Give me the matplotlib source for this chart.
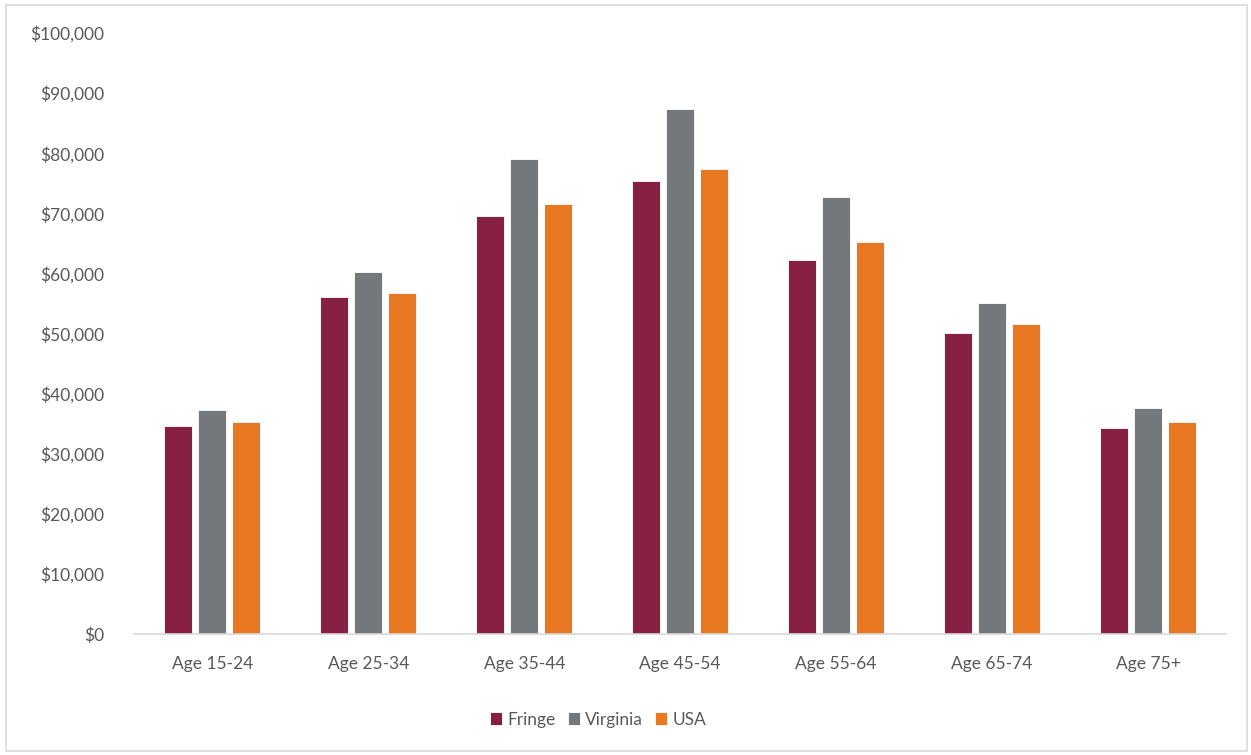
import numpy as np
import matplotlib.pyplot as plt
from matplotlib.patches import Rectangle
from matplotlib.ticker import FuncFormatter

plt.rcParams['font.family'] = ['Lato', 'DejaVu Sans']

# Median household income by age of householder
age_groups = ['Age 15-24', 'Age 25-34', 'Age 35-44', 'Age 45-54',
              'Age 55-64', 'Age 65-74', 'Age 75+']
fringe = [34600, 56000, 69600, 75400, 62300, 50000, 34300]
virginia = [37300, 60200, 79000, 87300, 72700, 55000, 37600]
usa = [35300, 56700, 71600, 77300, 65300, 51600, 35300]

series = [('Fringe', fringe, '#861F41'),
          ('Virginia', virginia, '#75787B'),
          ('USA', usa, '#E87722')]

fig = plt.figure(figsize=(12.51, 7.55), dpi=100)
ax = fig.add_axes([0.1075, 0.1603, 0.8725, 0.796])

x = np.arange(len(age_groups))
width = 0.18
step = 0.218
for i, (name, vals, color) in enumerate(series):
    ax.bar(x + (i - 1) * step, vals, width, color=color, label=name,
           edgecolor='white', linewidth=0.6)

ax.set_xlim(-0.5, len(age_groups) - 0.5)
ax.set_ylim(0, 100000)
ax.set_yticks(np.arange(0, 100001, 10000))
ax.yaxis.set_major_formatter(FuncFormatter(lambda v, p: f'${v:,.0f}'))
ax.set_xticks(x)
ax.set_xticklabels(age_groups)

for side in ['top', 'right', 'left']:
    ax.spines[side].set_visible(False)
ax.spines['bottom'].set_color('#d9d9d9')
ax.spines['bottom'].set_linewidth(1.2)
ax.tick_params(axis='both', length=0, labelsize=12.5, colors='#595959')
ax.tick_params(axis='y', pad=22)
ax.tick_params(axis='x', pad=16)

leg = fig.legend(loc='center', bbox_to_anchor=(0.478, 0.047), ncol=3,
                 frameon=False, fontsize=12.5, handlelength=0.7,
                 handleheight=0.7, handletextpad=0.3, columnspacing=0.7)
for t in leg.get_texts():
    t.set_color('#595959')

# light frame round the whole chart
fig.patches.append(Rectangle((6 / 1251, 4 / 755), 1241 / 1251, 746 / 755,
                             transform=fig.transFigure, fill=False,
                             edgecolor='#d9d9d9', linewidth=1.2))

fig.savefig('out.png', dpi=100)
